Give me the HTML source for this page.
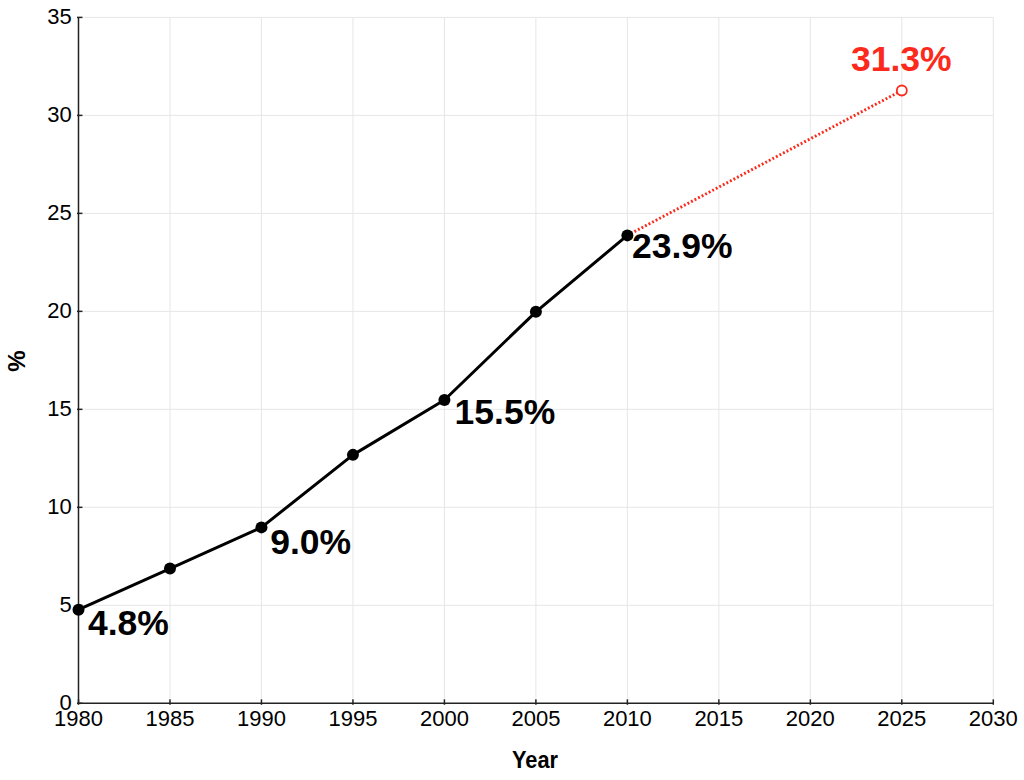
<!DOCTYPE html>
<html><head><meta charset="utf-8"><style>
html,body{margin:0;padding:0;background:#fff;}
body{width:1024px;height:780px;overflow:hidden;}
svg{display:block;}
text{font-family:"Liberation Sans",sans-serif;}
.t{font-size:22px;fill:#000;}
.ax{font-size:22.5px;font-weight:bold;fill:#000;}
.dl{font-size:35.5px;font-weight:bold;}
</style></head><body>
<svg width="1024" height="780" viewBox="0 0 1024 780">
<line x1="169.98" y1="17.40" x2="169.98" y2="698.30" stroke="#e6e6e6" stroke-width="1"/>
<line x1="261.46" y1="17.40" x2="261.46" y2="698.30" stroke="#e6e6e6" stroke-width="1"/>
<line x1="352.94" y1="17.40" x2="352.94" y2="698.30" stroke="#e6e6e6" stroke-width="1"/>
<line x1="444.42" y1="17.40" x2="444.42" y2="698.30" stroke="#e6e6e6" stroke-width="1"/>
<line x1="535.90" y1="17.40" x2="535.90" y2="698.30" stroke="#e6e6e6" stroke-width="1"/>
<line x1="627.38" y1="17.40" x2="627.38" y2="698.30" stroke="#e6e6e6" stroke-width="1"/>
<line x1="718.86" y1="17.40" x2="718.86" y2="698.30" stroke="#e6e6e6" stroke-width="1"/>
<line x1="810.34" y1="17.40" x2="810.34" y2="698.30" stroke="#e6e6e6" stroke-width="1"/>
<line x1="901.82" y1="17.40" x2="901.82" y2="698.30" stroke="#e6e6e6" stroke-width="1"/>
<line x1="993.30" y1="17.40" x2="993.30" y2="698.30" stroke="#e6e6e6" stroke-width="1"/>
<line x1="83.50" y1="605.31" x2="993.30" y2="605.31" stroke="#e6e6e6" stroke-width="1"/>
<line x1="83.50" y1="507.33" x2="993.30" y2="507.33" stroke="#e6e6e6" stroke-width="1"/>
<line x1="83.50" y1="409.34" x2="993.30" y2="409.34" stroke="#e6e6e6" stroke-width="1"/>
<line x1="83.50" y1="311.36" x2="993.30" y2="311.36" stroke="#e6e6e6" stroke-width="1"/>
<line x1="83.50" y1="213.37" x2="993.30" y2="213.37" stroke="#e6e6e6" stroke-width="1"/>
<line x1="83.50" y1="115.39" x2="993.30" y2="115.39" stroke="#e6e6e6" stroke-width="1"/>
<line x1="83.50" y1="17.40" x2="993.30" y2="17.40" stroke="#e6e6e6" stroke-width="1"/>
<line x1="78.50" y1="17.40" x2="78.50" y2="703.30" stroke="#222" stroke-width="1.5"/>
<line x1="78.50" y1="703.30" x2="993.30" y2="703.30" stroke="#222" stroke-width="1.5"/>
<line x1="78.50" y1="704.80" x2="78.50" y2="699.30" stroke="#222" stroke-width="1.5"/>
<line x1="169.98" y1="704.80" x2="169.98" y2="699.30" stroke="#222" stroke-width="1.5"/>
<line x1="261.46" y1="704.80" x2="261.46" y2="699.30" stroke="#222" stroke-width="1.5"/>
<line x1="352.94" y1="704.80" x2="352.94" y2="699.30" stroke="#222" stroke-width="1.5"/>
<line x1="444.42" y1="704.80" x2="444.42" y2="699.30" stroke="#222" stroke-width="1.5"/>
<line x1="535.90" y1="704.80" x2="535.90" y2="699.30" stroke="#222" stroke-width="1.5"/>
<line x1="627.38" y1="704.80" x2="627.38" y2="699.30" stroke="#222" stroke-width="1.5"/>
<line x1="718.86" y1="704.80" x2="718.86" y2="699.30" stroke="#222" stroke-width="1.5"/>
<line x1="810.34" y1="704.80" x2="810.34" y2="699.30" stroke="#222" stroke-width="1.5"/>
<line x1="901.82" y1="704.80" x2="901.82" y2="699.30" stroke="#222" stroke-width="1.5"/>
<line x1="993.30" y1="704.80" x2="993.30" y2="699.30" stroke="#222" stroke-width="1.5"/>
<line x1="77.00" y1="703.30" x2="82.50" y2="703.30" stroke="#222" stroke-width="1.5"/>
<line x1="77.00" y1="605.31" x2="82.50" y2="605.31" stroke="#222" stroke-width="1.5"/>
<line x1="77.00" y1="507.33" x2="82.50" y2="507.33" stroke="#222" stroke-width="1.5"/>
<line x1="77.00" y1="409.34" x2="82.50" y2="409.34" stroke="#222" stroke-width="1.5"/>
<line x1="77.00" y1="311.36" x2="82.50" y2="311.36" stroke="#222" stroke-width="1.5"/>
<line x1="77.00" y1="213.37" x2="82.50" y2="213.37" stroke="#222" stroke-width="1.5"/>
<line x1="77.00" y1="115.39" x2="82.50" y2="115.39" stroke="#222" stroke-width="1.5"/>
<line x1="77.00" y1="17.40" x2="82.50" y2="17.40" stroke="#222" stroke-width="1.5"/>
<text x="78.50" y="725.8" text-anchor="middle" class="t">1980</text>
<text x="169.98" y="725.8" text-anchor="middle" class="t">1985</text>
<text x="261.46" y="725.8" text-anchor="middle" class="t">1990</text>
<text x="352.94" y="725.8" text-anchor="middle" class="t">1995</text>
<text x="444.42" y="725.8" text-anchor="middle" class="t">2000</text>
<text x="535.90" y="725.8" text-anchor="middle" class="t">2005</text>
<text x="627.38" y="725.8" text-anchor="middle" class="t">2010</text>
<text x="718.86" y="725.8" text-anchor="middle" class="t">2015</text>
<text x="810.34" y="725.8" text-anchor="middle" class="t">2020</text>
<text x="901.82" y="725.8" text-anchor="middle" class="t">2025</text>
<text x="993.30" y="725.8" text-anchor="middle" class="t">2030</text>
<text x="71.7" y="710.10" text-anchor="end" class="t">0</text>
<text x="71.7" y="612.11" text-anchor="end" class="t">5</text>
<text x="71.7" y="514.13" text-anchor="end" class="t">10</text>
<text x="71.7" y="416.14" text-anchor="end" class="t">15</text>
<text x="71.7" y="318.16" text-anchor="end" class="t">20</text>
<text x="71.7" y="220.17" text-anchor="end" class="t">25</text>
<text x="71.7" y="122.19" text-anchor="end" class="t">30</text>
<text x="71.7" y="24.20" text-anchor="end" class="t">35</text>
<text x="512" y="767.7" textLength="46" lengthAdjust="spacingAndGlyphs" class="ax" style="font-size:24.4px">Year</text>
<text transform="translate(25,361) rotate(-90)" text-anchor="middle" class="ax" style="font-size:24px">%</text>
<line x1="627.38" y1="235.38" x2="901.82" y2="90.51" stroke="#fb2a1c" stroke-width="2.9" stroke-dasharray="1.9 2.1"/>
<circle cx="901.82" cy="90.51" r="5" fill="#fff" stroke="#fb2a1c" stroke-width="1.8"/>
<polyline points="78.50,609.68 169.98,568.53 261.46,527.38 352.94,454.87 444.42,399.99 535.90,311.81 627.38,235.38" fill="none" stroke="#000" stroke-width="3" stroke-linejoin="round"/>
<circle cx="78.50" cy="609.68" r="6" fill="#000"/>
<circle cx="169.98" cy="568.53" r="6" fill="#000"/>
<circle cx="261.46" cy="527.38" r="6" fill="#000"/>
<circle cx="352.94" cy="454.87" r="6" fill="#000"/>
<circle cx="444.42" cy="399.99" r="6" fill="#000"/>
<circle cx="535.90" cy="311.81" r="6" fill="#000"/>
<circle cx="627.38" cy="235.38" r="6" fill="#000"/>
<text x="87.9" y="634.9" class="dl" fill="#000">4.8%</text>
<text x="270.2" y="553.8" class="dl" fill="#000">9.0%</text>
<text x="454.6" y="423.8" class="dl" fill="#000">15.5%</text>
<text x="632.0" y="257.8" class="dl" fill="#000">23.9%</text>
<text x="851.0" y="71.0" class="dl" fill="#fb2a1c">31.3%</text>
</svg>
</body></html>
